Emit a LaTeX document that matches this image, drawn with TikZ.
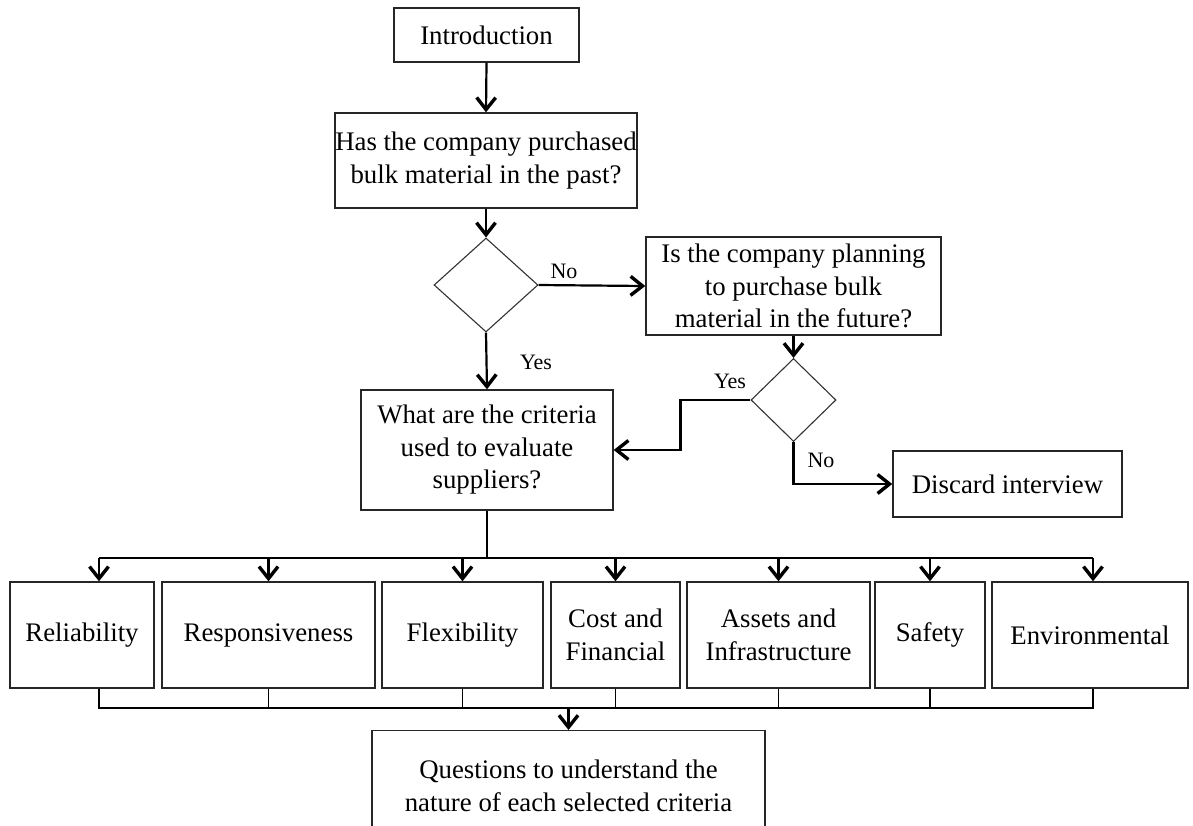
\documentclass[tikz,border=0pt]{standalone}
\usepackage{fontspec}
\setmainfont{Liberation Serif}
\usetikzlibrary{arrows.meta,shapes.geometric,calc}

\tikzset{
  box/.style={draw=black!85, line width=1.4pt, rectangle, inner sep=0pt,
    align=center, font=\fontsize{26.8}{32.5}\selectfont},
  decision/.style={draw=black!80, line width=1.1pt, diamond, inner sep=0pt},
  flow/.style={line width=2.2pt, -{Straight Barb[length=12pt,width=19pt,line width=3.4pt]}},
  link/.style={line width=1.6pt},
  lbl/.style={font=\fontsize{22}{25}\selectfont, inner sep=0pt}
}

\begin{document}
\begin{tikzpicture}[x=1pt,y=-1pt]
\clip (0,0) rectangle (1193,825);
\fill[white] (0,0) rectangle (1193,825);

% main question chain
\node[box, minimum width=185pt, minimum height=54pt] (intro) at (486.5,35) {Introduction};
\node[box, minimum width=302pt, minimum height=95pt] (q1) at (486,160.5)
  {Has the company purchased\\bulk material in the past?};
\node[decision, minimum width=104pt, minimum height=94pt] (d1) at (486,285) {};
\node[box, minimum width=295pt, minimum height=98pt] (q2) at (793.5,286)
  {Is the company planning\\to purchase bulk\\material in the future?};
\node[decision, minimum width=85pt, minimum height=83pt] (d2) at (793.5,400) {};
\node[box, minimum width=252pt, minimum height=120pt] (crit) at (487,450)
  {What are the criteria\\used to evaluate\\suppliers?};
\node[box, minimum width=229pt, minimum height=66pt] (discard) at (1007.5,484) {Discard interview};

% criteria row
\node[box, minimum width=144pt, minimum height=106pt] (rel) at (82,635) {Reliability};
\node[box, minimum width=213pt, minimum height=106pt] (resp) at (268.5,635) {Responsiveness};
\node[box, minimum width=161pt, minimum height=106pt] (flex) at (462.5,635) {Flexibility};
\node[box, minimum width=129pt, minimum height=106pt] (cost) at (615.5,635) {Cost and\\Financial};
\node[box, minimum width=183pt, minimum height=106pt] (assets) at (778.5,635) {Assets and\\Infrastructure};
\node[box, minimum width=110pt, minimum height=106pt] (safety) at (930,635) {Safety};
\node[box, minimum width=196pt, minimum height=106pt] (env) at (1090,635) {Environmental};

% final box (runs past the lower edge)
\node[box, anchor=north, minimum width=393pt, minimum height=110pt] (q3) at (568.5,730)
  {Questions to understand the\\nature of each selected criteria};

% connectors of the decision part
\draw[flow] (intro.south) -- (q1.north);
\draw[flow] (q1.south) -- (d1.north);
\draw[flow] (d1.east) -- (q2.west);
\draw[flow] (d1.south) -- (crit.north);
\draw[flow] (q2.south) -- (d2.north);
\draw[flow] (d2.west) -- ++(-70pt,0) |- (crit.east);
\draw[flow] (d2.south) |- (discard.west);

\node[lbl] (lno1) at (564,271) {No};
\node[lbl] (lyes1) at (536,362) {Yes};
\node[lbl] (lyes2) at (730,381) {Yes};
\node[lbl] (lno2) at (821,460) {No};

% distribution to the criteria boxes
\coordinate (bus) at (0,558);
\coordinate (merge) at (0,708);
\coordinate (relx) at ([xshift=17pt]rel.north);
\coordinate (relb) at ([xshift=17pt]rel.south);
\coordinate (envx) at ([xshift=3pt]env.north);
\coordinate (envb) at ([xshift=3pt]env.south);

\draw[link] (crit.south) -- (crit.south |- bus);
\draw[link] (relx |- bus) -- (envx |- bus);
\draw[flow] (relx |- bus) -- (relx);
\foreach \n in {resp,flex,cost,assets,safety}
  \draw[flow] (\n.north |- bus) -- (\n.north);
\draw[flow] (envx |- bus) -- (envx);

% collection into the final box
\draw[link] (relb) -- (relb |- merge) -- (envb |- merge) -- (envb);
\foreach \n in {resp,flex,cost,assets,safety}
  \draw[link] (\n.south) -- (\n.south |- merge);
\draw[flow] (q3.north |- merge) -- (q3.north);
\end{tikzpicture}
\end{document}
